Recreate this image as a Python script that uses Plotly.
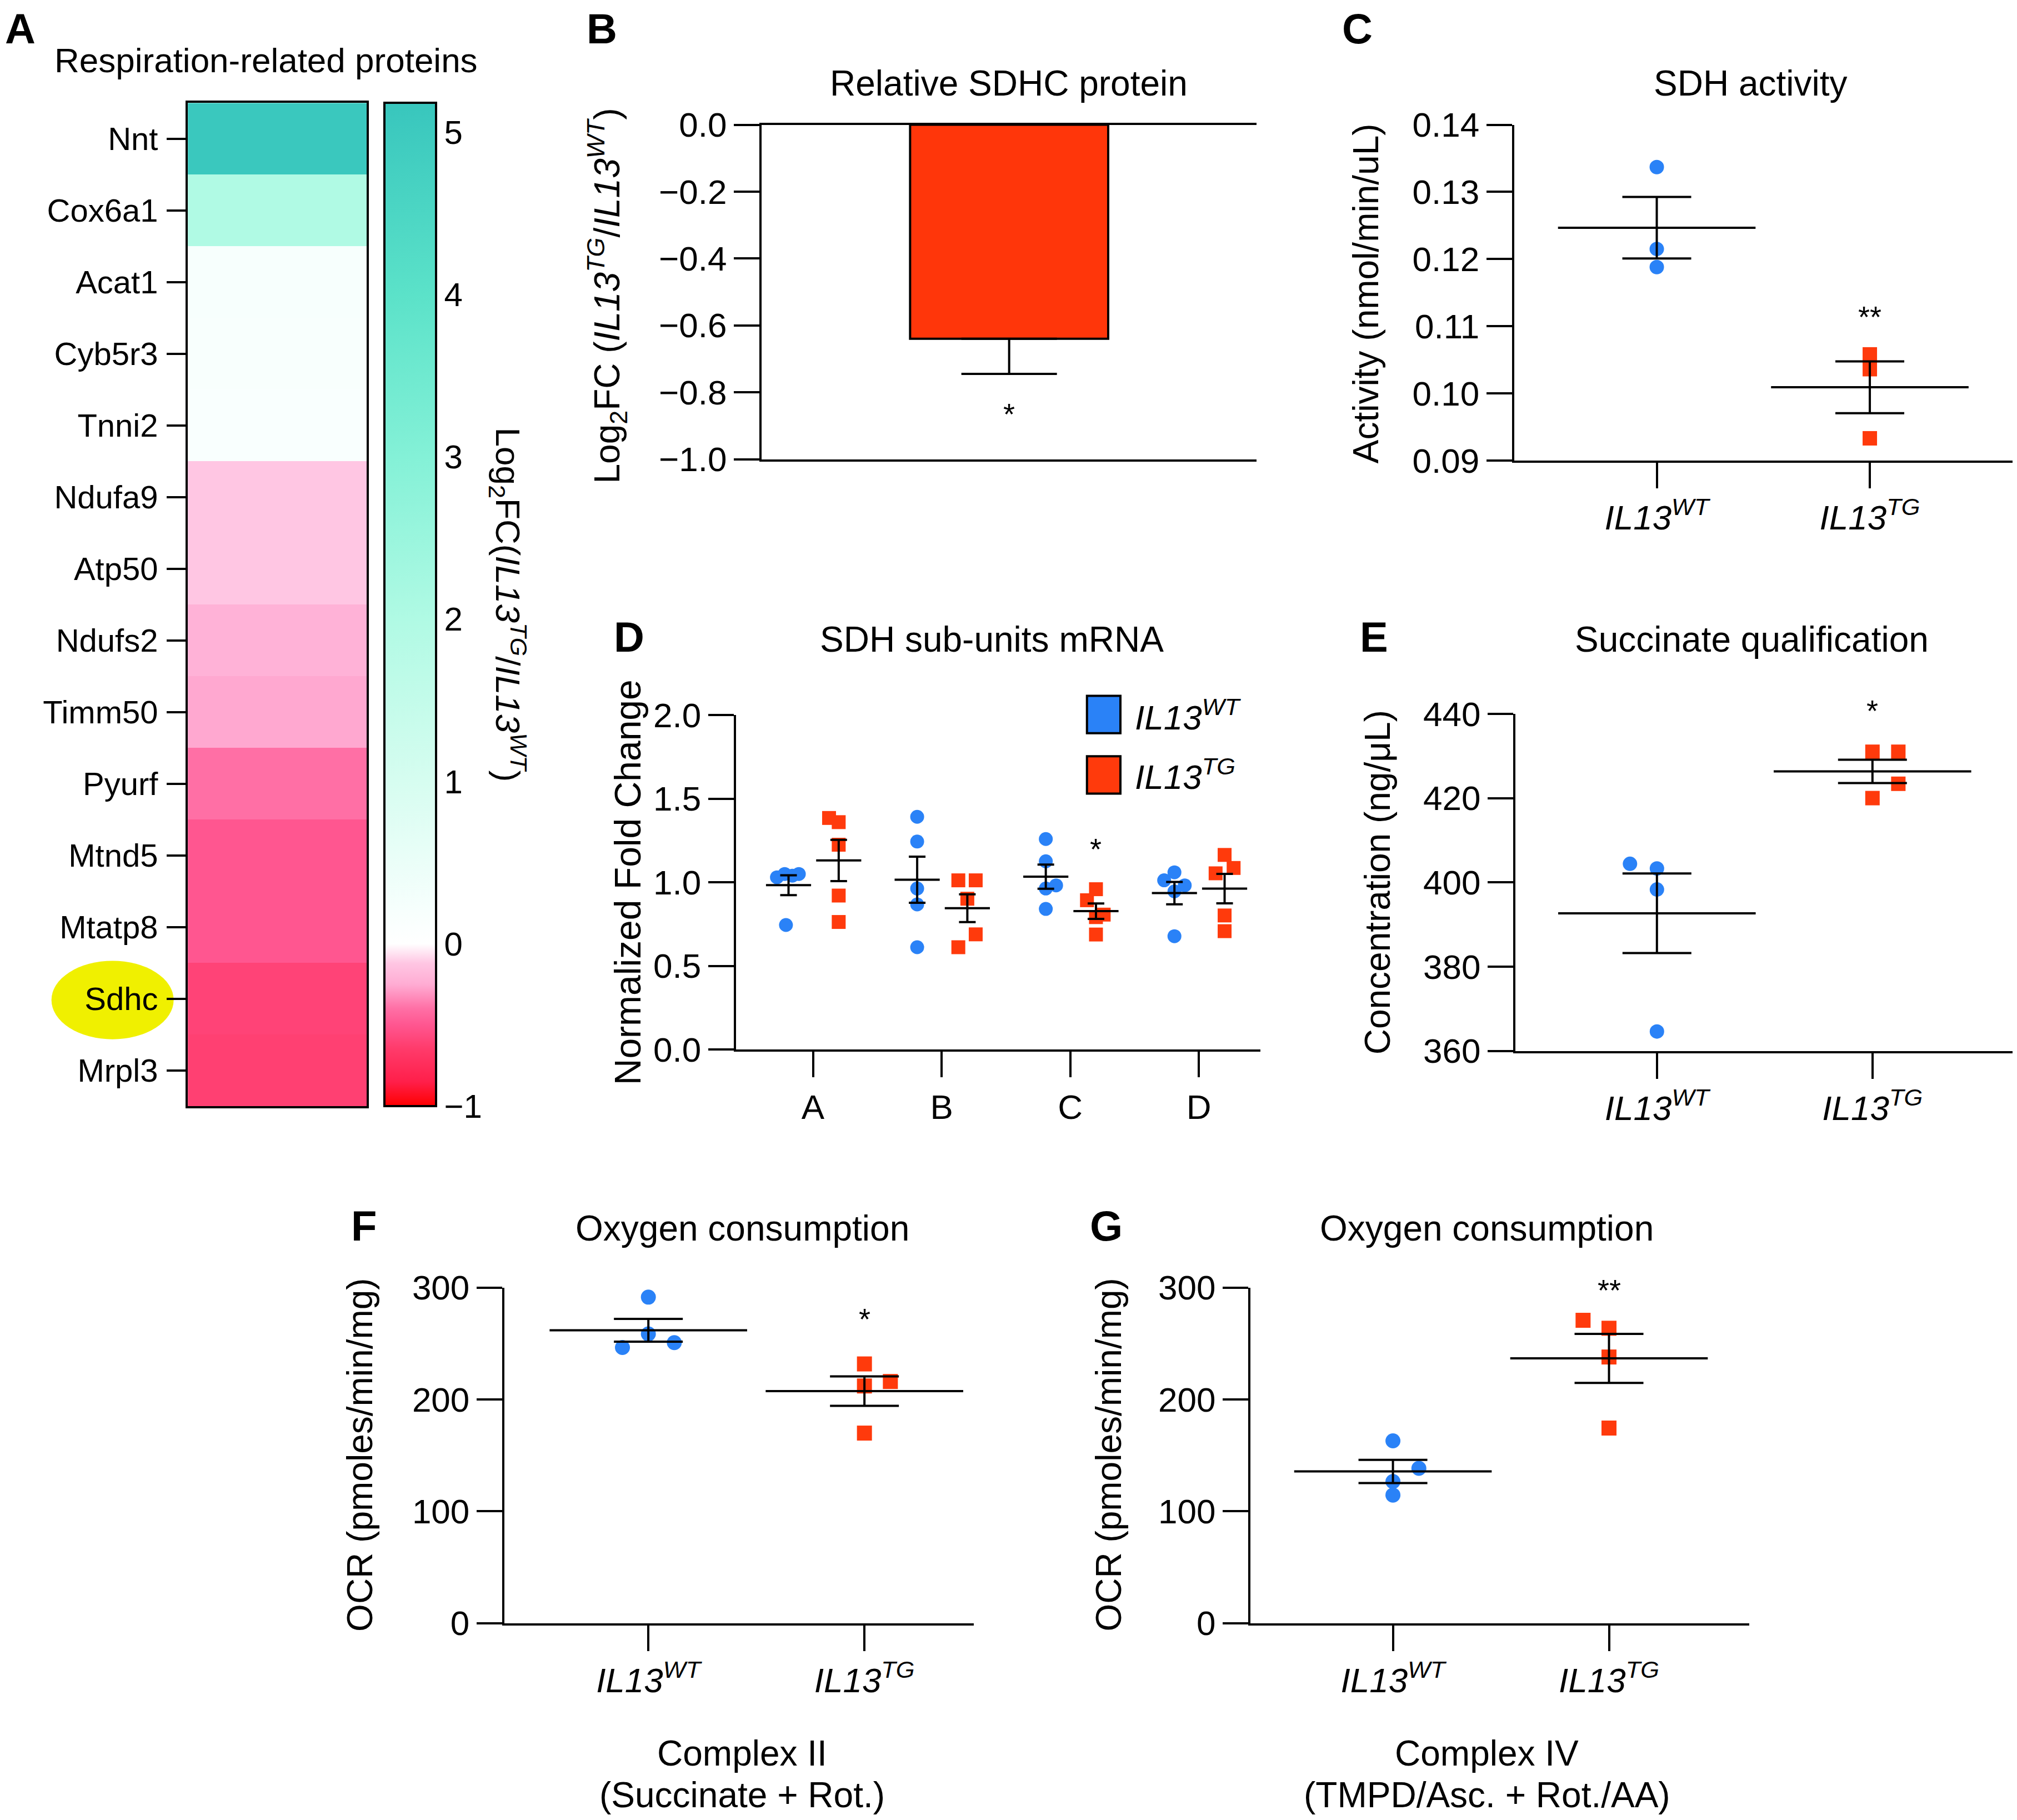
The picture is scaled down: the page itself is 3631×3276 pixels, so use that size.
import numpy as np
import plotly.graph_objects as go

# ---------------- data ----------------
genes = ["Nnt", "Cox6a1", "Acat1", "Cyb5r3", "Tnni2", "Ndufa9", "Atp50",
         "Ndufs2", "Timm50", "Pyurf", "Mtnd5", "Mtatp8", "Sdhc", "Mrpl3"]
log2fc = [5.1, 2.0, 0.2, 0.18, 0.15, -0.12, -0.12, -0.22, -0.26, -0.4,
          -0.5, -0.5, -0.6, -0.62]
colorbar_ticks = [-1, 0, 1, 2, 3, 4, 5]

sdhc_protein_mean = -0.64
sdhc_protein_sem = 0.105

group_labels = ["<i>IL13<sup>WT</sup></i>", "<i>IL13<sup>TG</sup></i>"]

sdh_activity_wt = [0.1337, 0.1215, 0.1188]
sdh_activity_tg = [0.1058, 0.1036, 0.0933]

subunits = ["A", "B", "C", "D"]
mrna_wt = [[1.03, 1.05, 1.04, 1.05, 0.745],
           [1.392, 1.244, 0.963, 0.868, 0.612],
           [1.259, 1.126, 0.982, 0.963, 0.841],
           [1.06, 1.012, 0.982, 0.946, 0.678]]
mrna_tg = [[1.385, 1.36, 1.225, 0.921, 0.763],
           [1.012, 1.012, 0.902, 0.612, 0.689],
           [0.959, 0.893, 0.807, 0.792, 0.688],
           [1.164, 1.086, 1.054, 0.802, 0.708]]

succinate_wt = [404.4, 403.3, 398.3, 364.6]
succinate_tg = [431.0, 431.0, 423.4, 420.0]

ocr_c2_wt = [291.4, 258.5, 246.4, 250.7]
ocr_c2_tg = [231.7, 216.0, 212.0, 169.9]

ocr_c4_wt = [163.0, 138.4, 126.6, 114.5]
ocr_c4_tg = [270.7, 263.6, 237.9, 174.4]

# ---------------- style ----------------
# layout positions are given in a 1568x1415 reference frame; the page body
# has an 8px margin, so the figure is 16px smaller and offset accordingly.
SW, SH = 1568, 1415
PW, PH = 3631, 3276
BODY = 8
FW, FH = PW - 2 * BODY, PH - 2 * BODY
SCALE = PW / SW


def px(x):
    return min(1.0, max(0.0, (x * PW / SW - BODY) / FW))


def py(y):
    return min(1.0, max(0.0, 1 - (y * PH / SH - BODY) / FH))


FONT = "Liberation Sans, Arial, sans-serif"
BLUE = "#2A82F7"
RED = "#FF3A0C"
BAR_RED = "#FF360A"
LW = 4
TICKF = dict(family=FONT, size=62, color="black")

# jitter offsets (x, in category units)
jit_c_wt = [0, 0, 0]
jit_c_tg = [0, 0, 0]
jit_d_wt = [[-0.09, -0.03, 0.03, 0.08, -0.02], [0, 0, 0, 0, 0],
            [0, 0, 0.08, 0, 0], [0, -0.08, 0.08, 0, 0]]
jit_d_tg = [[-0.075, 0, 0, 0, 0], [-0.07, 0.065, 0, -0.07, 0.065],
            [0, -0.07, 0.06, 0, 0], [0, 0.07, -0.07, 0, 0]]
jit_e_wt = [-0.125, 0, 0, 0]
jit_e_tg = [0, 0.12, 0.12, 0]
jit_f_wt = [0, 0, -0.12, 0.12]
jit_f_tg = [0, 0.12, 0, 0]
jit_g_wt = [0, 0.12, 0, 0]
jit_g_tg = [-0.12, 0, 0, 0]

fig = go.Figure()

# ---------------- Panel A: heatmap ----------------
zmin, zmax = -1.0, 5.18
stops = [(-1.0, "#ff0000"), (-0.85, "#ff1f4a"), (-0.65, "#ff3a6a"),
         (-0.5, "#ff5690"), (-0.4, "#ff6fa5"), (-0.25, "#ffacd3"),
         (-0.12, "#ffc6e3"), (0.0, "#ffffff"), (0.2, "#f7fffd"),
         (1.0, "#d6fdf0"), (2.0, "#b0fae4"), (3.0, "#84f1d7"),
         (4.0, "#5be2c9"), (5.18, "#38c6bd")]
colorscale = [[(v - zmin) / (zmax - zmin), c] for v, c in stops]

CB_X0, CB_X1, CB_Y0, CB_Y1 = 299, 339, 80, 860

fig.add_trace(go.Heatmap(
    z=[[v] for v in log2fc], x=[0], y=genes, colorscale=colorscale,
    zmin=zmin, zmax=zmax, xaxis="x", yaxis="y",
    colorbar=dict(x=px(CB_X0), xanchor="left", y=(py(CB_Y0) + py(CB_Y1)) / 2,
                  yanchor="middle", len=py(CB_Y0) - py(CB_Y1),
                  lenmode="fraction", thickness=(CB_X1 - CB_X0) * SCALE,
                  thicknessmode="pixels", outlinewidth=LW, outlinecolor="black",
                  xpad=0, ypad=0, tickvals=colorbar_ticks,
                  ticktext=[("\u2212" + str(-t)) if t < 0 else str(t)
                            for t in colorbar_ticks],
                  ticks="", ticklabelposition="outside",
                  tickfont=dict(family=FONT, size=60, color="black"))))

# ---------------- Panel B: bar ----------------
fig.add_trace(go.Bar(
    x=[0], y=[sdhc_protein_mean], width=0.4, xaxis="x2", yaxis="y2",
    marker=dict(color=BAR_RED, line=dict(color="black", width=4)),
    error_y=dict(type="data", symmetric=False, array=[0],
                 arrayminus=[sdhc_protein_sem], width=86, thickness=LW,
                 color="black")))


def dot_panel(xa, ya, groups, centers, jitters, msize, mean_w, cap_w):
    cols = [BLUE, RED]
    syms = ["circle", "square"]
    for k, (vals, c, jit) in enumerate(zip(groups, centers, jitters)):
        fig.add_trace(go.Scatter(
            x=[c + j for j in jit], y=vals, mode="markers", xaxis=xa, yaxis=ya,
            marker=dict(symbol=syms[k % 2], color=cols[k % 2], size=msize,
                        line=dict(width=0)),
            cliponaxis=False))
    means = [float(np.mean(v)) for v in groups]
    sems = [float(np.std(v, ddof=1) / np.sqrt(len(v))) for v in groups]
    fig.add_trace(go.Scatter(
        x=centers, y=means, mode="markers", xaxis=xa, yaxis=ya,
        marker=dict(symbol="line-ew", size=mean_w, color="black",
                    line=dict(width=LW, color="black")),
        error_y=dict(type="data", array=sems, width=cap_w, thickness=LW,
                     color="black"),
        cliponaxis=False))


dot_panel("x3", "y3", [sdh_activity_wt, sdh_activity_tg], [0, 1],
          [jit_c_wt, jit_c_tg], 26, 254, 62)

d_groups, d_centers, d_jits = [], [], []
for i in range(len(subunits)):
    d_groups += [mrna_wt[i], mrna_tg[i]]
    d_centers += [i - 0.19, i + 0.2]
    d_jits += [jit_d_wt[i], jit_d_tg[i]]
dot_panel("x4", "y4", d_groups, d_centers, d_jits, 25, 58, 15)

dot_panel("x5", "y5", [succinate_wt, succinate_tg], [0, 1],
          [jit_e_wt, jit_e_tg], 26, 254, 62)
dot_panel("x6", "y6", [ocr_c2_wt, ocr_c2_tg], [0, 1],
          [jit_f_wt, jit_f_tg], 27, 254, 62)
dot_panel("x7", "y7", [ocr_c4_wt, ocr_c4_tg], [0, 1],
          [jit_g_wt, jit_g_tg], 27, 254, 62)


# ---------------- axes ----------------
def base_axis(**kw):
    d = dict(showline=True, linecolor="black", linewidth=LW, ticks="outside",
             ticklen=46, tickwidth=LW, tickcolor="black", tickfont=TICKF,
             showgrid=False, zeroline=False, fixedrange=True, automargin=False)
    d.update(kw)
    return d


layout = dict(
    template="none",
    width=FW, height=FH, margin=dict(l=0, r=0, t=0, b=0, pad=0),
    paper_bgcolor="white", plot_bgcolor="rgba(0,0,0,0)", showlegend=False,
    font=dict(family=FONT, color="black"),
)

# A
layout["xaxis"] = dict(domain=[px(146), px(285)], range=[-0.5, 0.5],
                       showticklabels=False, ticks="", showline=True,
                       mirror=True, linecolor="black", linewidth=LW,
                       showgrid=False, zeroline=False, automargin=False)
layout["yaxis"] = dict(domain=[py(860), py(80)], type="category",
                       categoryorder="array", categoryarray=genes[::-1],
                       ticks="outside", ticklen=34, tickwidth=LW,
                       tickcolor="black", showline=True, mirror=True,
                       linecolor="black", linewidth=LW, showgrid=False,
                       automargin=False, ticklabelstandoff=4,
                       tickfont=dict(family=FONT, size=58, color="black"))
# colorbar tick marks (both inner edges) via an overlay axis pair
layout["xaxis8"] = dict(domain=[px(CB_X0), px(CB_X1)], range=[0, 1],
                        anchor="y8", visible=False, automargin=False)
layout["yaxis8"] = dict(domain=[py(CB_Y1), py(CB_Y0)], range=[zmin, zmax],
                        anchor="x8", tickvals=colorbar_ticks, ticks="inside",
                        ticklen=27, tickwidth=LW, tickcolor="black",
                        mirror="ticks", showline=False, showticklabels=False,
                        showgrid=False, zeroline=False, automargin=False)
# B
layout["xaxis2"] = dict(domain=[px(592), px(977)], range=[-0.5, 0.5],
                        anchor="y2", showticklabels=False, ticks="",
                        showline=True, mirror=True, linecolor="black",
                        linewidth=LW, showgrid=False, zeroline=False,
                        automargin=False)
layout["yaxis2"] = base_axis(domain=[py(357), py(97)], anchor="x2",
                             range=[-1, 0],
                             tickvals=[0, -0.2, -0.4, -0.6, -0.8, -1.0],
                             ticktext=["0.0", "\u22120.2", "\u22120.4",
                                       "\u22120.6", "\u22120.8", "\u22121.0"])
# C
layout["xaxis3"] = base_axis(domain=[px(1177), px(1568)], anchor="y3",
                             range=[-0.67, 1.67], tickvals=[0, 1],
                             ticktext=group_labels)
layout["yaxis3"] = base_axis(domain=[py(358), py(97)], anchor="x3",
                             range=[0.09, 0.14],
                             tickvals=[0.09, 0.10, 0.11, 0.12, 0.13, 0.14],
                             ticktext=["0.09", "0.10", "0.11", "0.12",
                                       "0.13", "0.14"])
# D
layout["xaxis4"] = base_axis(domain=[px(572), px(980)], anchor="y4",
                             range=[-0.6, 3.48], tickvals=[0, 1, 2, 3],
                             ticktext=subunits)
layout["yaxis4"] = base_axis(domain=[py(816), py(556)], anchor="x4",
                             range=[0, 2], tickvals=[0, 0.5, 1, 1.5, 2],
                             ticktext=["0.0", "0.5", "1.0", "1.5", "2.0"])
# E
layout["xaxis5"] = base_axis(domain=[px(1178), px(1568)], anchor="y5",
                             range=[-0.657, 1.65], tickvals=[0, 1],
                             ticktext=group_labels)
layout["yaxis5"] = base_axis(domain=[py(817), py(555)], anchor="x5",
                             range=[360, 440], tickvals=[360, 380, 400, 420, 440])
# F
layout["xaxis6"] = base_axis(domain=[px(392), px(757)], anchor="y6",
                             range=[-0.667, 1.506], tickvals=[0, 1],
                             ticktext=group_labels)
layout["yaxis6"] = base_axis(domain=[py(1262), py(1001)], anchor="x6",
                             range=[0, 300], tickvals=[0, 100, 200, 300])
# G
layout["xaxis7"] = base_axis(domain=[px(972), px(1360)], anchor="y7",
                             range=[-0.66, 1.65], tickvals=[0, 1],
                             ticktext=group_labels)
layout["yaxis7"] = base_axis(domain=[py(1262), py(1001)], anchor="x7",
                             range=[0, 300], tickvals=[0, 100, 200, 300])

fig.update_layout(**layout)

# invisible trace so the colorbar-tick overlay axes are drawn
fig.add_trace(go.Scatter(x=[0.5], y=[2], mode="markers", xaxis="x8",
                         yaxis="y8", marker=dict(opacity=0), hoverinfo="skip"))

# ---------------- annotations ----------------
ann = []


def text(x, y, s, size=64, angle=0, xanchor="center", bold=False,
         yanchor="middle", yval=None, xval=None):
    if bold:
        s = "<b>" + s + "</b>"
    ann.append(dict(x=px(x) if xval is None else xval,
                    y=py(y) if yval is None else yval,
                    xref="paper", yref="paper", text=s,
                    showarrow=False, textangle=angle, xanchor=xanchor,
                    yanchor=yanchor, borderpad=0,
                    font=dict(family=FONT, size=size, color="black")))


# panel letters (top row anchored to the paper top so nothing is clipped)
text(0, 0, "A", size=76, bold=True, xanchor="left", yanchor="top",
     xval=0.0, yval=1.0)
for L, x in {"B": 468, "C": 1055}.items():
    text(x, 0, L, size=76, bold=True, yanchor="top", yval=1.0)
for L, (x, y) in {"D": (489, 495), "E": (1068, 495), "F": (283, 953),
                  "G": (860, 953)}.items():
    text(x, y, L, size=76, bold=True)

text(207, 47, "Respiration-related proteins", 62)
text(784, 65, "Relative SDHC protein", 64)
text(1361, 65, "SDH activity", 64)
text(771, 497, "SDH sub-units mRNA", 64)
text(1362, 497, "Succinate qualification", 64)
text(577, 955, "Oxygen consumption", 64)
text(1156, 955, "Oxygen consumption", 64)

text(395, 470, "Log<sub>2</sub>FC(<i>IL13<sup>TG</sup></i>/<i>IL13<sup>WT</sup></i>)",
     62, angle=90)
text(472, 230, "Log<sub>2</sub>FC (<i>IL13<sup>TG</sup></i>/<i>IL13<sup>WT</sup></i>)",
     64, angle=-90)
text(1062, 228, "Activity (nmol/min/uL)", 64, angle=-90)
text(488, 686, "Normalized Fold Change", 66, angle=-90)
text(1071, 686, "Concentration (ng/\u03bcL)", 64, angle=-90)
text(280, 1131, "OCR (pmoles/min/mg)", 64, angle=-90)
text(862, 1131, "OCR (pmoles/min/mg)", 64, angle=-90)

text(577, 1363, "Complex II", 64)
text(577, 0, "(Succinate + Rot.)", 64, yanchor="bottom", yval=0.0)
text(1156, 1363, "Complex IV", 64)
text(1156, 0, "(TMPD/Asc. + Rot./AA)", 64, yanchor="bottom", yval=0.0)

text(882, 556, "<i>IL13<sup>WT</sup></i>", 62, xanchor="left")
text(882, 602, "<i>IL13<sup>TG</sup></i>", 62, xanchor="left")

sig = [("x2", "y2", 0, -0.865, "*"), ("x3", "y3", 1, 0.1114, "**"),
       ("x4", "y4", 2.2, 1.2, "*"), ("x6", "y6", 1, 272, "*"),
       ("x7", "y7", 1, 298, "**")]
for xr, yr, x, y, s in sig:
    ann.append(dict(x=x, y=y, xref=xr, yref=yr, text=s, showarrow=False,
                    xanchor="center", yanchor="middle",
                    font=dict(family=FONT, size=54, color="black")))
# E's mark sits above the axis top -> place in axis-domain coordinates
ann.append(dict(x=1, y=1.01, xref="x5", yref="y5 domain", text="*",
                showarrow=False, xanchor="center", yanchor="middle",
                font=dict(family=FONT, size=54, color="black")))

fig.update_layout(annotations=ann)

# ---------------- shapes ----------------
shapes = [
    dict(type="circle", xref="paper", yref="paper", x0=px(40), x1=px(135),
         y0=py(808), y1=py(747), fillcolor="#F0F000", line=dict(width=0),
         layer="below"),
    dict(type="rect", xref="paper", yref="paper", x0=px(845), x1=px(871),
         y0=py(570), y1=py(541), fillcolor=BLUE,
         line=dict(color="black", width=LW)),
    dict(type="rect", xref="paper", yref="paper", x0=px(845), x1=px(871),
         y0=py(617), y1=py(588), fillcolor=RED,
         line=dict(color="black", width=LW)),
]
fig.update_layout(shapes=shapes)

fig.write_html("out.html")
